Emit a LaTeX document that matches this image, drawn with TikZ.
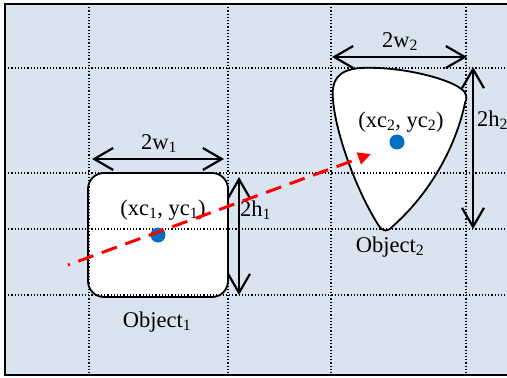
\documentclass[tikz,border=0pt]{standalone}
\usepackage{fontspec}
\setmainfont{Liberation Serif}
\usetikzlibrary{arrows.meta}
\definecolor{bgblue}{RGB}{218,227,240}
\definecolor{dotblue}{RGB}{0,112,192}
\begin{document}
\begin{tikzpicture}[x=1pt,y=-1pt,
  lbl/.style={font=\fontsize{22.5}{26}\selectfont, inner sep=0pt, anchor=base},
  gridline/.style={line width=1.2pt, dash pattern=on 1.2pt off 2pt},
  dim/.style={line width=2.2pt, {Straight Barb[length=19pt,width=22pt]}-{Straight Barb[length=19pt,width=22pt]}},
  centre/.style={circle, fill=dotblue, minimum size=15pt, inner sep=0pt},
  motion/.style={red, line width=3pt, dash pattern=on 16pt off 9pt, dash phase=14pt, -{Triangle[length=13pt,width=12pt]}},
  shapeline/.style={draw=black, line width=1.8pt, fill=white},
]
\useasboundingbox (0,0) rectangle (507,378);
\draw[line width=2pt, fill=bgblue] (5,4) rectangle (510,375);

% object 1
\node[shapeline, rounded corners=16pt, minimum width=140pt, minimum height=124pt, inner sep=0pt] (obj1) at (158,235) {};

% object 2
\coordinate (t2) at (360,68);
\coordinate (r2) at (465,103);
\coordinate (b2) at (386,230);
\coordinate (l2) at (333,100);
\path[shapeline] (t2) .. controls (400,66) and (446,78) .. (460,88)
  .. controls (468,93) and (467,99) .. (r2)
  .. controls (455,150) and (428,195) .. (393,226)
  .. controls (388,232) and (383,232) .. (379,226)
  .. controls (357,192) and (336,135) .. (l2)
  .. controls (331,80) and (338,70) .. (t2) -- cycle;

% grid
\foreach \gx in {89,228,331,466} \draw[gridline] (\gx,4) -- (\gx,375);
\foreach \gy in {68,173,229,295} \draw[gridline] (5,\gy) -- (507,\gy);

% centres
\node[centre] (c1) at (158,235) {};
\node[centre] (c2) at (397,142) {};

% dimension arrows
\coordinate (w1a) at (92,159);
\coordinate (w1b) at (224,159);
\coordinate (h1a) at (239,177);
\coordinate (h1b) at (239,295);
\coordinate (w2a) at (332,57);
\coordinate (w2b) at (467,57);
\coordinate (h2a) at (473,67);
\coordinate (h2b) at (473,229);
\draw[dim] (w1a) -- (w1b);
\draw[dim] (h1a) -- (h1b);
\draw[dim] (w2a) -- (w2b);
\draw[dim] (h2a) -- (h2b);

% labels
\node[lbl] (lw1) at (159,149) {2w\textsubscript{1}};
\node[lbl, anchor=base west] (lh1) at (240,216) {2h\textsubscript{1}};
\node[lbl] (lc1) at (163,215) {(xc\textsubscript{1}, yc\textsubscript{1})};
\node[lbl] (lo1) at (157,327) {Object\textsubscript{1}};
\node[lbl] (lw2) at (400,47) {2w\textsubscript{2}};
\node[lbl, anchor=base west] (lh2) at (477,126) {2h\textsubscript{2}};
\node[lbl] (lc2) at (401,127) {(xc\textsubscript{2}, yc\textsubscript{2})};
\node[lbl] (lo2) at (390,252) {Object\textsubscript{2}};

% motion
\coordinate (mstart) at (68,265);
\coordinate (mtip) at (371,154);
\draw[motion] (mstart) -- (mtip);
\end{tikzpicture}
\end{document}
